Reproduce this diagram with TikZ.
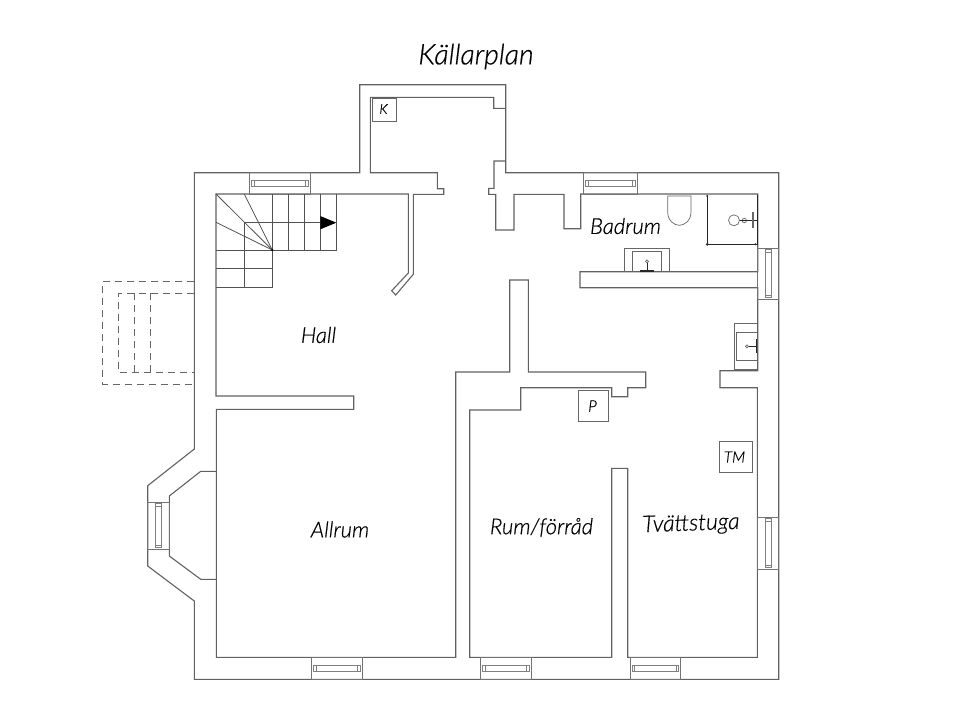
\documentclass[tikz,border=0pt]{standalone}
\usepackage{fontspec}
\setmainfont{Lato}[ItalicFont={Lato Light Italic},ItalicFeatures={FakeBold=0.5}]
\tikzset{
  wall/.style={draw=black!62,line width=1.1pt,line join=miter},
  thin line/.style={draw=black!68,line width=0.8pt},
  fixture/.style={draw=black!60,line width=0.7pt},
  heavy/.style={draw=black!85,line width=1.5pt},
  dashline/.style={draw=black!60,line width=0.9pt,dash pattern=on 7pt off 5pt},
  room/.style={font=\fontsize{22}{25}\selectfont\itshape,text=black,inner sep=0pt},
  tag/.style={font=\fontsize{14}{16}\selectfont\itshape,text=black,inner sep=0pt},
  tagbox/.style={draw=black!60,line width=0.8pt},
  win/.style={draw=black!55,line width=0.9pt},
  winin/.style={draw=black!50,line width=0.7pt}
}
\newcommand{\hwin}[3]{% x1,x2,ytop of a 21.5 deep opening
  \draw[win] (#1,#3) rectangle (#2,#3+21.5);
  \draw[winin] (#1+2,#3+8) rectangle (#2-2,#3+14);
  \draw[winin] (#1+4.5,#3+8) -- (#1+4.5,#3+14) (#2-4.5,#3+8) -- (#2-4.5,#3+14);
}
\newcommand{\vwin}[3]{% y1,y2,xleft
  \draw[win] (#3,#1) rectangle (#3+21.5,#2);
  \draw[winin] (#3+8,#1+1.5) rectangle (#3+14,#2-1.5);
  \draw[winin] (#3+8,#1+4) -- (#3+14,#1+4) (#3+8,#2-4) -- (#3+14,#2-4);
}
\begin{document}
\begin{tikzpicture}[x=1pt,y=-1pt]
\useasboundingbox (0,0) rectangle (960,718);
% outer shell
\draw[wall] (359.7,172.7) -- (194.3,172.7) -- (194.3,449) -- (147.7,485.7) -- (147.7,566) -- (194.3,601) -- (194.3,679.3) -- (778.7,679.3) -- (778.7,172.7) -- (505.7,172.7) -- (505.7,84.7) -- (359.7,84.7) -- cycle;
% inner wall line
\draw[wall] (505.7,161) -- (494,161) -- (494,188.3) -- (488.7,188.3) -- (488.7,194.3) -- (495.7,194.3) -- (495.7,230) -- (514,230) -- (514,194.3) -- (564,194.3) -- (564,228.7) -- (580.7,228.7) -- (580.7,194) -- (757.7,194) -- (757.7,271.7) -- (580,271.7) -- (580,287.7) -- (757.7,287.7) -- (757.7,370.7) -- (720,370.7) -- (720,387.7) -- (757.3,387.7) -- (757.3,657.3) -- (627.7,657.3) -- (627.7,468.3) -- (611.7,468.3) -- (611.7,657.3) -- (469.7,657.3) -- (469.7,410) -- (520.7,410) -- (520.7,387.7) -- (611.7,387.7) -- (611.7,396.7) -- (627.7,396.7) -- (627.7,387.7) -- (645.7,387.7) -- (645.7,372) -- (528.3,372) -- (528.3,280) -- (509.7,280) -- (509.7,372) -- (455.7,372) -- (455.7,657.3) -- (216.3,657.3) -- (216.3,409.3) -- (353.7,409.3) -- (353.7,396) -- (216,396) -- (216,194) -- (408.3,194) -- (408.3,273) -- (391.7,290.7) -- (395.7,295) -- (413.3,274.3) -- (413.3,194.3) -- (443.7,194.3) -- (443.7,188.7) -- (437.3,188.7) -- (437.3,172.7) -- (370.3,172.7) -- (370.3,97.3) -- (493.7,97.3) -- (493.7,108.3) -- (505.7,108.3);
% alcove
\draw[wall] (216.3,471.3) -- (200.7,471.3) -- (169.3,496) -- (169.3,556) -- (200.7,579.3) -- (216.3,579.3);
% windows
\hwin{249.7}{310.3}{172.7}
\hwin{583.7}{637.3}{172.7}
\hwin{311.7}{362.3}{657.6}
\hwin{480.7}{531.3}{657.6}
\hwin{630.3}{680.7}{657.6}
\vwin{248}{299.3}{757.3}
\vwin{517.3}{569}{757.3}
\vwin{502.3}{549.3}{147.7}
% stairs
\draw[thin line] (216,250.7) -- (336.3,250.7) -- (336.3,194);
\foreach \sx in {272.7,288.7,304.3,320.3} \draw[thin line] (\sx,194) -- (\sx,250.7);
\draw[thin line] (244.3,222.3) -- (320.3,222.3);
\draw[thin line] (244.3,222.3) -- (244.3,287.3);
\draw[thin line] (272.7,250.7) -- (272.7,287.3) -- (216,287.3);
\draw[thin line] (216,268.7) -- (272.7,268.7);
\foreach \sx/\sy in {216/194,244.3/194,216/222.3} \draw[thin line] (\sx,\sy) -- (272.3,250);
\fill[black] (272.3,250) circle (1.3);
\fill[black] (320.3,216) -- (336.3,222.7) -- (320.3,229.3) -- cycle;
% dashed outside stair
\draw[dashline] (194,281.7) -- (102.7,281.7) -- (102.7,384) -- (194,384);
\draw[dashline] (194,293) -- (118.7,293) -- (118.7,372.7) -- (194,372.7);
\draw[dashline] (134.3,293) -- (134.3,372.7);
\draw[dashline] (150,293) -- (150,372.7);
% toilet
\draw[fixture] (667.7,196) -- (691,196) -- (691,212) .. controls (691,221) and (684,225.3) .. (679.3,225.3) .. controls (674.5,225.3) and (667.7,221) .. (667.7,212) -- cycle;
% shower
\draw[heavy,line width=1.1pt] (707.3,194.5) -- (707.3,244.3) -- (757.5,244.3) -- (757.5,194.5);
\fill[black!80] (707.3,244.3) circle (1.6) (707.3,196) circle (1.1) (755.5,244.3) circle (1.1);
\draw[fixture] (734,220.3) circle (5.5) (744.3,220.5) circle (2.2);
\draw[heavy] (739.5,220.5) -- (757,220.5);
\draw[fixture,line width=1.6pt] (753,212) -- (753,228);
% bathroom sink
\draw[fixture] (624.7,271.7) -- (624.7,248.7) -- (669.7,248.7) -- (669.7,271.7);
\draw[fixture] (632.3,271.7) -- (632.3,251.3) -- (661.7,251.3) -- (661.7,271.7);
\draw[fixture] (647,261.3) circle (1.5);
\draw[heavy,line width=1pt] (647,263) -- (647,271);
\draw[heavy] (640,271) -- (654,271);
% laundry sink
\draw[fixture] (757.3,323.3) -- (734.3,323.3) -- (734.3,369) -- (757.3,369);
\draw[fixture] (757.3,332) -- (736.3,332) -- (736.3,360.3) -- (757.3,360.3);
\draw[fixture] (747,346.3) circle (1.5);
\draw[heavy,line width=1pt] (748.5,346.3) -- (756.5,346.3);
\draw[heavy] (756.5,339) -- (756.5,353);
% tag boxes
\draw[tagbox] (372.3,98.7) rectangle (396,121);
\draw[tagbox] (578.7,390.7) rectangle (608,421.3);
\draw[tagbox] (719.7,441.7) rectangle (752.7,472.3);
\node[tag] (ktxt) at (383.5,109) {K};
\node[tag,font=\fontsize{16}{18}\selectfont\itshape] (ptxt) at (592.5,406) {P};
\node[tag,font=\fontsize{15.5}{18}\selectfont\itshape] (tmtxt) at (734.5,457) {TM};
% labels
\node[room,font=\fontsize{28.5}{32}\selectfont\itshape] (title) at (476,56.5) {Källarplan};
\node[room] (badrum) at (625.5,226) {Badrum};
\node[room] (hall) at (318.5,335) {Hall};
\node[room] (allrum) at (340,529.5) {Allrum};
\node[room] (rum) at (541.5,527.5) {Rum/förråd};
\node[room,rotate=2,font=\fontsize{23}{26}\selectfont\itshape] (tv) at (691,524.5) {Tvättstuga};
\end{tikzpicture}
\end{document}
